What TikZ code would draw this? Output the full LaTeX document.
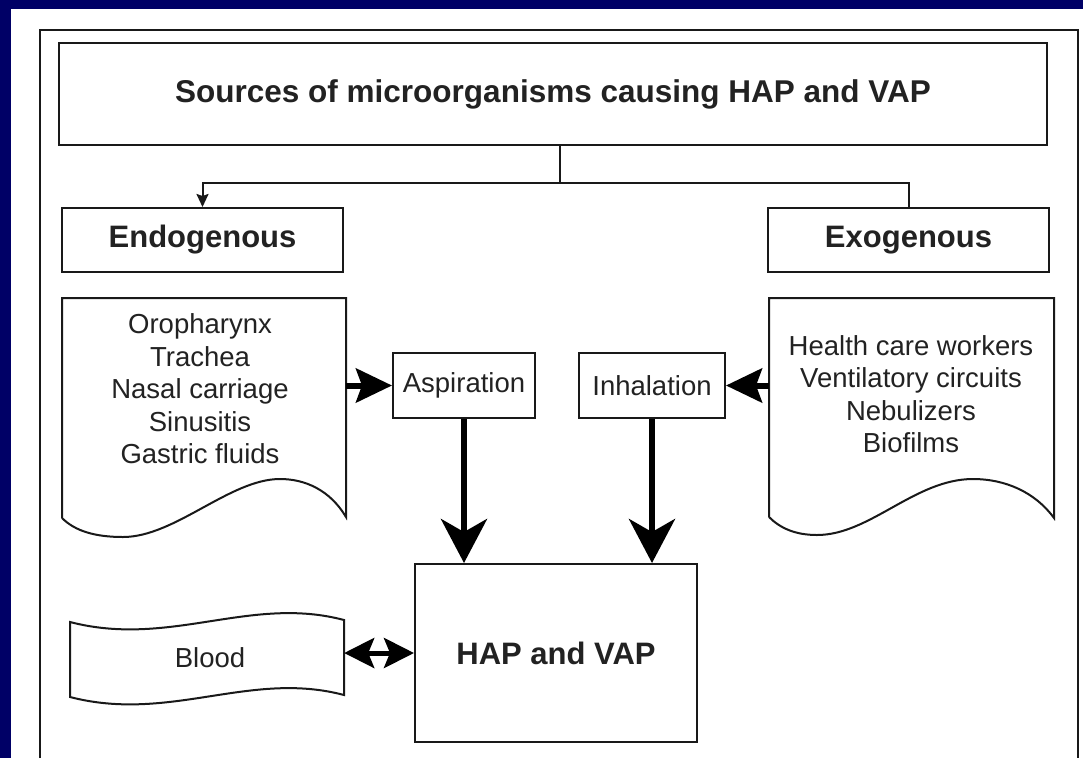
\documentclass[tikz,border=0pt]{standalone}
\usepackage{fontspec}
\setmainfont{Liberation Sans}
\usetikzlibrary{
    arrows.meta,
    calc,
    positioning
}
\definecolor{navy}{HTML}{000066}
\definecolor{ink}{HTML}{222222}

\begin{document}
\begin{tikzpicture}[x=1pt, y=-1pt,
    box/.style={draw=black!90, line width=2pt, fill=white, inner sep=0pt, text=ink},
    boldtext/.style={font=\fontsize{31}{35}\selectfont\bfseries},
    listtext/.style={font=\fontsize{27.5}{32.5}\selectfont, align=center, text=ink},
    outline/.style={draw=black!90, line width=2pt},
    hidden/.style={inner sep=0pt},
    fat/.style={line width=6pt, -{Stealth[length=36pt, width=34pt, inset=6pt]}},
    fatdown/.style={line width=6pt, -{Stealth[length=44pt, width=46pt, inset=13pt]}},
    twoway/.style={line width=5pt, {Stealth[length=30pt, width=30pt, inset=6pt]}-{Stealth[length=30pt, width=30pt, inset=6pt]}},
    thinline/.style={line width=2pt, draw=black!90}
]
    % slide background and page
    \fill[navy] (0,0) rectangle (1083,758);
    \fill[white] (11,9) rectangle (1083,758);
    \useasboundingbox (0,0) rectangle (1083,758);
    \draw[outline] (40,758) -- (40,29.5) -- (1077.5,29.5) -- (1077.5,758);

    % boxes
    \node[box, boldtext, minimum width=988pt, minimum height=102pt] (src) at (553,94) {\fontsize{31.5}{35}\selectfont Sources of microorganisms causing HAP and VAP};
    \node[box, boldtext, minimum width=281pt, minimum height=64pt] (endo) at (202.5,240) {Endogenous};
    \node[box, boldtext, minimum width=281pt, minimum height=64pt] (exo) at (908.5,240) {Exogenous};
    \node[box, listtext, minimum width=142pt, minimum height=65pt] (asp) at (464,385.5) {Aspiration};
    \node[box, listtext, minimum width=146pt, minimum height=65pt] (inh) at (652,385.5) {Inhalation};
    \node[box, boldtext, minimum width=282pt, minimum height=178pt] (hap) at (556,653) {HAP and VAP};

    % document sheets
    \draw[outline] (62,518) -- (62,298) -- (346,298) -- (346,517)
        .. controls (330,490) and (305,479) .. (280,479)
        .. controls (230,479) and (175,537) .. (123,537)
        .. controls (95,537) and (75,531) .. (62,518);
    \draw[outline] (769,517) -- (769,298) -- (1054,298) -- (1054,518)
        .. controls (1035,492) and (1005,479) .. (973,479)
        .. controls (915,479) and (870,535) .. (817,535)
        .. controls (795,535) and (780,528) .. (769,517);
    \draw[outline] (70,622) .. controls (170,648) and (250,595) .. (344,620)
        -- (344,695) .. controls (250,670) and (170,723) .. (70,697) -- cycle;
    \node[hidden, minimum width=284pt, minimum height=220pt] (endodoc) at (204,408) {};
    \node[hidden, minimum width=285pt, minimum height=220pt] (exodoc) at (911.5,408) {};
    \node[hidden, minimum width=274pt, minimum height=75pt] (bloodsheet) at (207,657) {};
    \node[listtext] (endolist) at (200,389) {Oropharynx\\Trachea\\Nasal carriage\\Sinusitis\\Gastric fluids};
    \node[listtext] (exolist) at (911,394) {Health care workers\\Ventilatory circuits\\Nebulizers\\Biofilms};
    \node[listtext] (bloodtext) at (210,658) {Blood};

    % split from the top box
    \coordinate (split) at (560,183);
    \draw[thinline] (src.south -| split) -- (split) -- (split -| exo.north) -- (exo.north);
    \draw[thinline, -{Stealth[length=13pt, width=12pt, inset=2pt]}] (split) -- (split -| endo.north) -- (endo.north);

    \draw
    (endodoc.east |- asp.west) edge[fat] (asp.west)
    (exodoc.west |- inh.east) edge[fat] (inh.east)
    (asp.south) edge[fatdown] (asp.south |- hap.north)
    (inh.south) edge[fatdown] (inh.south |- hap.north)
    (bloodsheet.east |- hap.west) edge[twoway] (hap.west);
\end{tikzpicture}
\end{document}
